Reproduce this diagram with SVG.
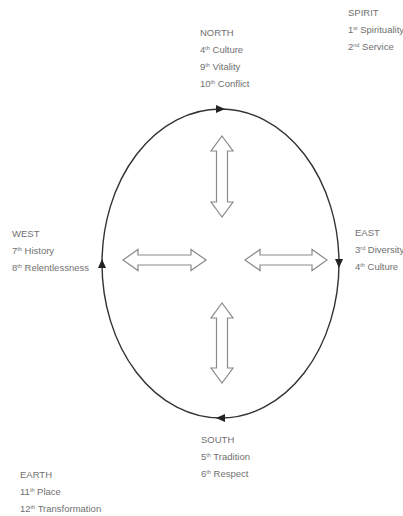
<svg xmlns="http://www.w3.org/2000/svg" width="403" height="516" viewBox="0 0 403 516">
<style>
.t{font-family:"Liberation Sans",Arial,Helvetica,sans-serif;font-size:9.5px;fill:#707070}
.s{font-size:5.5px}
.dbl{fill:#fff;stroke:#8a8a8a;stroke-width:1.2;stroke-linejoin:miter}
.ring{fill:none;stroke:#333;stroke-width:1.4}
</style>
<defs>
<marker id="ah" markerUnits="userSpaceOnUse" markerWidth="9" markerHeight="8" refX="4.5" refY="4" orient="auto">
<path d="M0,0 L9,4 L0,8 z" fill="#222"/>
</marker>
</defs>
<rect width="403" height="516" fill="#fff"/>
<g id="connectors">
<path class="ring" d="M102,263.5 A118.5,154.5 0 0 1 220.5,109 A118.5,154.5 0 0 1 339,263.5 A118.5,154.5 0 0 1 220.5,418 A118.5,154.5 0 0 1 102,263.5" marker-start="url(#ah)" marker-mid="url(#ah)"/>
<polygon class="dbl" points="222,136 233,151 227.5,151 227.5,202 233,202 222,217 211,202 216.5,202 216.5,151 211,151"/>
<polygon class="dbl" points="222,303 233,318 227.5,318 227.5,368 233,368 222,383 211,368 216.5,368 216.5,318 211,318"/>
<polygon class="dbl" points="123,260 138,249.5 138,255 191,255 191,249.5 206,260 191,270.5 191,265 138,265 138,270.5"/>
<polygon class="dbl" points="245,260 260,249.5 260,255 312,255 312,249.5 327,260 312,270.5 312,265 260,265 260,270.5"/>
</g>
<g id="spirit">
<text class="t" x="348" y="16">SPIRIT</text>
<text class="t" x="348" y="33">1<tspan class="s" baseline-shift="super">st</tspan> Spirituality</text>
<text class="t" x="348" y="50">2<tspan class="s" baseline-shift="super">nd</tspan> Service</text>
</g>
<g id="north">
<text class="t" x="200" y="36">NORTH</text>
<text class="t" x="200" y="53">4<tspan class="s" baseline-shift="super">th</tspan> Culture</text>
<text class="t" x="200" y="70">9<tspan class="s" baseline-shift="super">th</tspan> Vitality</text>
<text class="t" x="200" y="87">10<tspan class="s" baseline-shift="super">th</tspan> Conflict</text>
</g>
<g id="west">
<text class="t" x="12" y="237">WEST</text>
<text class="t" x="12" y="254">7<tspan class="s" baseline-shift="super">th</tspan> History</text>
<text class="t" x="12" y="271">8<tspan class="s" baseline-shift="super">th</tspan> Relentlessness</text>
</g>
<g id="east">
<text class="t" x="355" y="236">EAST</text>
<text class="t" x="355" y="253">3<tspan class="s" baseline-shift="super">rd</tspan> Diversity</text>
<text class="t" x="355" y="270">4<tspan class="s" baseline-shift="super">th</tspan> Culture</text>
</g>
<g id="south">
<text class="t" x="201" y="443">SOUTH</text>
<text class="t" x="201" y="460">5<tspan class="s" baseline-shift="super">th</tspan> Tradition</text>
<text class="t" x="201" y="477">6<tspan class="s" baseline-shift="super">th</tspan> Respect</text>
</g>
<g id="earth">
<text class="t" x="20" y="478">EARTH</text>
<text class="t" x="20" y="495">11<tspan class="s" baseline-shift="super">th</tspan> Place</text>
<text class="t" x="20" y="512">12<tspan class="s" baseline-shift="super">th</tspan> Transformation</text>
</g>
</svg>
